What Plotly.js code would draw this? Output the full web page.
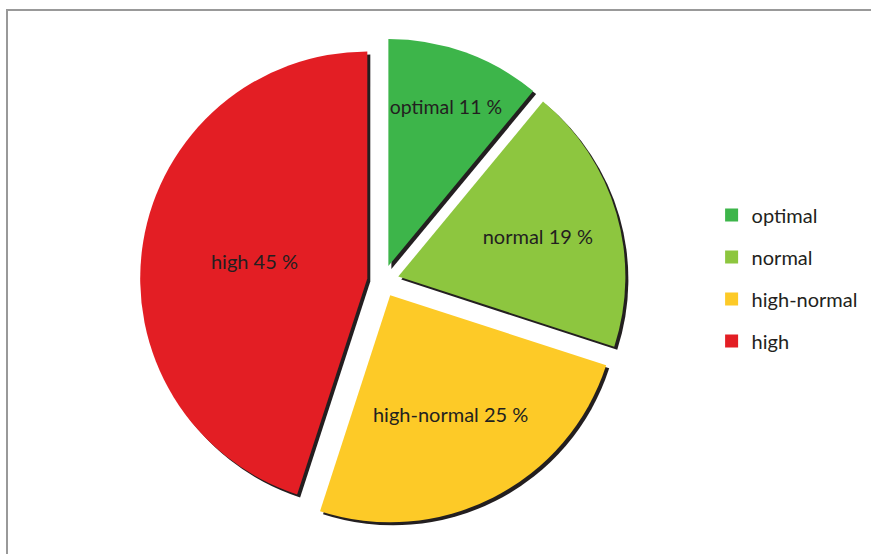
<!DOCTYPE html>
<html>
<head>
<meta charset="utf-8">
<script src="https://cdn.plot.ly/plotly-3.0.1.min.js"></script>
<style>html,body{margin:0;padding:0;background:#fff;}#chart{width:871px;height:554px;}</style>
</head>
<body>
<div id="chart"></div>
<script>
const labels = ["optimal", "normal", "high-normal", "high"];
const values = [11, 19, 25, 45];
const colors = ["#3db54a", "#8dc63f", "#fdca27", "#e31e24"];
const shadowColor = "#231f20";

const W = 871, H = 554;
const cx = 383, cy = 281, box = 486;
const dom = {x: [(cx - box/2)/W, (cx + box/2)/W], y: [(H - cy - box/2)/H, (H - cy + box/2)/H]};
const sh = 3;

const common = {
  type: 'pie', values: values, sort: false, direction: 'clockwise', rotation: 0,
  pull: 0.07, hoverinfo: 'skip', showlegend: false
};

const shadow = Object.assign({}, common, {
  labels: labels.map(l => l + ' '),
  marker: {colors: labels.map(() => shadowColor), line: {width: 0}},
  textinfo: 'none',
  domain: {x: [dom.x[0] + sh/W, dom.x[1] + sh/W], y: [dom.y[0] - sh/H, dom.y[1] - sh/H]}
});

const main = Object.assign({}, common, {
  labels: labels,
  marker: {colors: colors, line: {width: 0}},
  texttemplate: '%{label} %{value} %',
  textposition: 'inside', insidetextorientation: 'horizontal',
  textfont: {family: 'Lato, sans-serif', size: 20, color: '#231f20'},
  domain: dom
});

// legend entries (no visible points)
const legendTraces = labels.map((l, i) => ({
  type: 'scatter', mode: 'markers', x: [null], y: [null], name: l,
  legendgroup: 'g' + i, showlegend: true, hoverinfo: 'skip',
  marker: {symbol: 'square', size: 13, color: colors[i]}
}));

const layout = {
  width: W, height: H,
  margin: {l: 0, r: 0, t: 0, b: 0},
  paper_bgcolor: '#fff', plot_bgcolor: 'rgba(0,0,0,0)',
  xaxis: {visible: false}, yaxis: {visible: false},
  showlegend: true,
  legend: {
    x: 0.817, y: 0.647, xanchor: 'left', yanchor: 'top',
    traceorder: 'grouped', tracegroupgap: 13,
    font: {family: 'Lato, sans-serif', size: 20, color: '#231f20'},
    bgcolor: 'rgba(0,0,0,0)'
  },
  shapes: [{
    type: 'rect', xref: 'paper', yref: 'paper',
    x0: 7/W, x1: 1.05, y0: -0.1, y1: (H - 10)/H,
    line: {color: '#999999', width: 2}, fillcolor: 'rgba(0,0,0,0)', layer: 'below'
  }]
};

Plotly.newPlot('chart', [shadow, main].concat(legendTraces), layout, {staticPlot: true});
</script>
</body>
</html>
